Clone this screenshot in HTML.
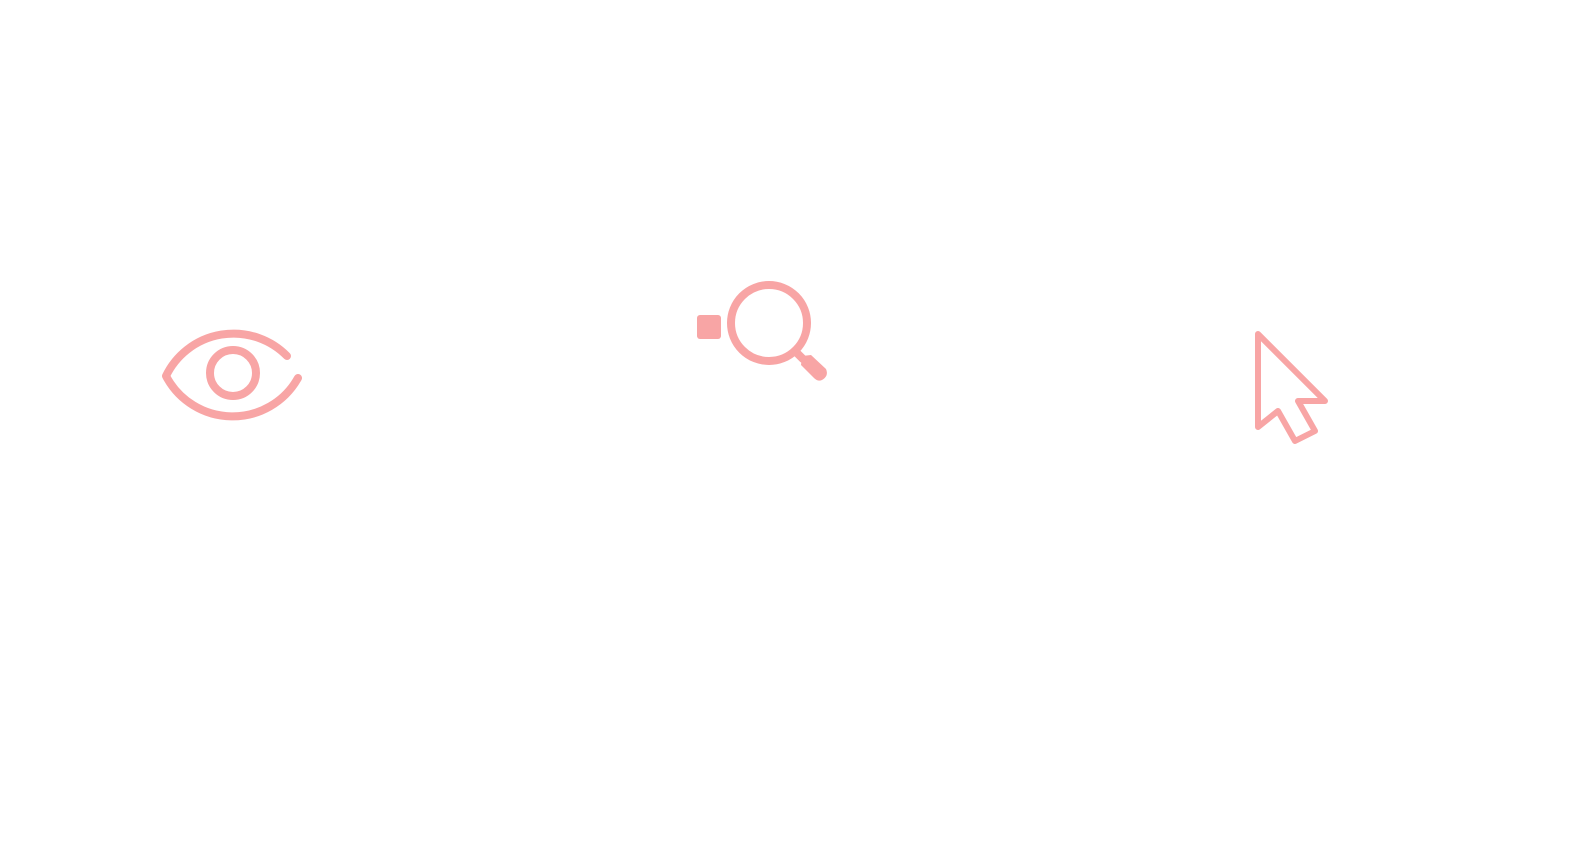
<!DOCTYPE html>
<html><head><style>html,body{margin:0;padding:0;background:#fff;width:1596px;height:856px;overflow:hidden}</style></head>
<body>
<svg width="1596" height="856" viewBox="0 0 1596 856" xmlns="http://www.w3.org/2000/svg">
<g fill="none" stroke="#f8a5a5" stroke-width="8" stroke-linecap="round" stroke-linejoin="round">
  <!-- eye -->
  <path d="M287 356 A75 75 0 0 0 166 376 A75 75 0 0 0 298 378"/>
  <circle cx="233" cy="373" r="23"/>
  <!-- magnifier -->
  <circle cx="769" cy="323" r="38"/>
  <path d="M797 353 L803 359"/>
  <!-- cursor -->
  <path d="M1258 334 L1258 427 L1278 411 L1295 441 L1315 431 L1298 401 L1325 401 Z" stroke-width="6"/>
</g>
<g fill="#f8a5a5">
  <rect x="697" y="315" width="24" height="24" rx="3"/>
  <path d="M802 356 L811 355 L826 369 Q829 376 822 380 Q818 382 814 378 L801 365 Z"/>
</g>
</svg>
</body></html>
